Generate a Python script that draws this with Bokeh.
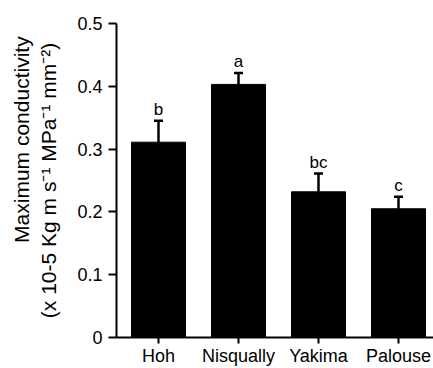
from bokeh.plotting import figure
from bokeh.models import ColumnDataSource, Range1d, FixedTicker, Whisker, TeeHead, LinearAxis
from bokeh.core.properties import value
from bokeh.embed import file_html
from bokeh.resources import INLINE

categories = ["Hoh", "Nisqually", "Yakima", "Palouse"]
means = [0.311, 0.403, 0.232, 0.205]
se = [0.034, 0.018, 0.029, 0.019]
letters = ["b", "a", "bc", "c"]
y_ticks = [0, 0.1, 0.2, 0.3, 0.4, 0.5]
title_line1 = "Maximum conductivity"
title_line2 = "(x 10-5 Kg m s\u207b\u00b9 MPa\u207b\u00b9 mm\u207b\u00b2)"

FONT = "Liberation Sans"

xs = list(range(len(categories)))
upper = [m + s for m, s in zip(means, se)]
src = ColumnDataSource(dict(x=xs, top=means, upper=upper, letters=letters))

p = figure(width=433, height=368, x_range=Range1d(-0.525, 3.4375), y_range=Range1d(0, 0.5),
           output_backend="svg", toolbar_location=None,
           min_border_left=116, min_border_right=0, min_border_top=23, min_border_bottom=31)

p.vbar(x="x", top="top", width=0.675, source=src, fill_color="black", line_color="black")

wh = Whisker(source=src, base="x", upper="upper", lower="top",
             upper_head=TeeHead(size=9, line_width=2.5, line_color="black"),
             lower_head=None, line_width=2.5, line_color="black")
p.add_layout(wh)

p.text(x="x", y="upper", text="letters", source=src, text_align="center",
       text_baseline="bottom", y_offset=-2, text_font=value(FONT),
       text_font_size="17px", text_color="black")

p.xgrid.visible = False
p.ygrid.visible = False
p.outline_line_color = None

p.xaxis.ticker = FixedTicker(ticks=xs)
p.xaxis.major_label_overrides = {i: c for i, c in enumerate(categories)}
p.yaxis.ticker = FixedTicker(ticks=y_ticks)
p.yaxis.major_label_overrides = {0: "0"}

for ax in (p.xaxis, p.yaxis):
    ax.axis_line_width = 2
    ax.axis_line_color = "black"
    ax.major_tick_line_width = 2
    ax.major_tick_line_color = "black"
    ax.major_tick_in = 0
    ax.minor_tick_line_color = None
    ax.major_label_text_font = FONT
    ax.major_label_text_color = "black"

p.xaxis.major_tick_out = 6
p.xaxis.major_label_text_font_size = "18px"
p.xaxis.major_label_standoff = 2
p.yaxis.major_tick_out = 8
p.yaxis.major_label_text_font_size = "18px"
p.yaxis.major_label_standoff = 6

p.yaxis.axis_label = title_line2
p.yaxis.axis_label_text_font = FONT
p.yaxis.axis_label_text_font_size = "21px"
p.yaxis.axis_label_text_font_style = "normal"
p.yaxis.axis_label_text_color = "black"
p.yaxis.axis_label_standoff = 14

# leading no-break spaces shift the centred first line toward the top, as in the reference
outer = LinearAxis(ticker=FixedTicker(ticks=[]), axis_line_color=None,
                   major_tick_line_color=None, minor_tick_line_color=None,
                   major_tick_out=0, major_tick_in=0, major_label_standoff=0,
                   axis_label="\u00a0" * 14 + title_line1, axis_label_text_font=FONT,
                   axis_label_text_font_size="21px", axis_label_text_font_style="normal",
                   axis_label_text_color="black", axis_label_standoff=2)
p.add_layout(outer, "left")

open("out.html", "w").write(file_html(p, INLINE))
